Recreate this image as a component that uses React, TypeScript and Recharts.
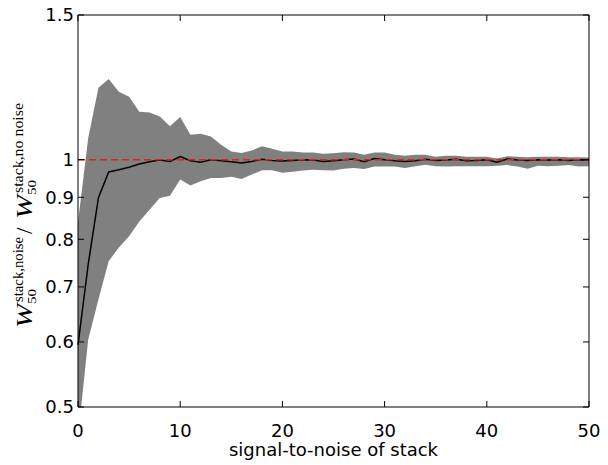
import { ComposedChart, Area, Line, XAxis, YAxis, ReferenceLine } from 'recharts';

// signal-to-noise of stack
const snr = Array.from({ length: 51 }, (_, i) => i);

// median ratio W50(stack, noise) / W50(stack, no noise)
const median = [
  0.595, 0.746, 0.899, 0.966, 0.972, 0.979, 0.988, 0.994, 0.999, 0.995,
  1.009, 0.997, 0.993, 1.0, 0.997, 0.994, 0.991, 0.995, 1.001, 0.998,
  0.996, 0.998, 1.0, 0.999, 0.995, 0.997, 1.0, 1.002, 0.994, 1.003,
  1.0, 0.997, 0.995, 0.997, 1.001, 0.998, 0.999, 1.001, 0.997, 0.998,
  1.0, 0.993, 1.002, 0.999, 0.998, 1.0, 0.999, 1.0, 0.998, 1.0, 0.999,
];

// lower edge of the scatter band
const lower = [
  0.46, 0.604, 0.676, 0.752, 0.782, 0.807, 0.841, 0.869, 0.898, 0.904,
  0.946, 0.93, 0.941, 0.95, 0.95, 0.953, 0.947, 0.959, 0.971, 0.971,
  0.964, 0.967, 0.97, 0.972, 0.971, 0.97, 0.975, 0.977, 0.974, 0.981,
  0.981, 0.981, 0.977, 0.982, 0.986, 0.982, 0.981, 0.982, 0.982, 0.982,
  0.982, 0.983, 0.985, 0.981, 0.975, 0.983, 0.982, 0.983, 0.985, 0.981, 0.982,
];

// upper edge of the scatter band
const upper = [
  0.84, 1.063, 1.223, 1.254, 1.21, 1.193, 1.144, 1.141, 1.129, 1.098,
  1.127, 1.072, 1.075, 1.067, 1.043, 1.023, 1.019, 1.026, 1.038, 1.031,
  1.023, 1.023, 1.02, 1.02, 1.017, 1.018, 1.021, 1.02, 1.014, 1.02,
  1.02, 1.014, 1.011, 1.014, 1.014, 1.008, 1.011, 1.011, 1.008, 1.008,
  1.008, 1.003, 1.01, 1.008, 1.007, 1.008, 1.008, 1.008, 1.007, 1.007, 1.006,
];

const xTicks = [0, 10, 20, 30, 40, 50];
const yTicks = [0.5, 0.6, 0.7, 0.8, 0.9, 1, 1.5];

const data = snr.map((s, i) => ({
  snr: s,
  band: [lower[i], upper[i]],
  median: median[i],
}));

const font = { fill: '#000', fontSize: 18, fontFamily: 'DejaVu Sans' };
const serif = "'Liberation Serif', 'DejaVu Serif', serif";
const TL = 6; // inward tick length

// matplotlib-style inward ticks, drawn together with their labels
const BottomTick = ({ x, y, payload }: any) => (
  <g>
    <line x1={x} x2={x} y1={y - 17} y2={y - 17 - TL} stroke="#000" />
    <text x={x} y={y} dy="0.71em" textAnchor="middle" {...font}>{payload.value}</text>
  </g>
);
const LeftTick = ({ x, y, payload }: any) => (
  <g>
    <line x1={x + 4} x2={x + 4 + TL} y1={y} y2={y} stroke="#000" />
    <text x={x} y={y} dy="0.36em" textAnchor="end" {...font}>{String(payload.value)}</text>
  </g>
);
const TopTick = ({ x, y }: any) => (
  <line x1={x} x2={x} y1={y} y2={y + TL} stroke="#000" />
);
const RightTick = ({ x, y }: any) => (
  <line x1={x - TL} x2={x} y1={y} y2={y} stroke="#000" />
);

// W_50^{stack,noise} / W_50^{stack,no noise}, rotated
const YLabel = () => (
  <g transform="translate(32,328) rotate(-90)" fontFamily={serif} fill="#000">
    <text x={0} y={0} fontSize={23} fontStyle="italic" textLength={24} lengthAdjust="spacingAndGlyphs">W</text>
    <text x={24} y={4} fontSize={13} textLength={15} lengthAdjust="spacingAndGlyphs">50</text>
    <text x={26} y={-9} fontSize={14} textLength={65} lengthAdjust="spacingAndGlyphs">stack,noise</text>
    <text x={94} y={0} fontSize={23}>/</text>
    <text x={109} y={0} fontSize={23} fontStyle="italic" textLength={24} lengthAdjust="spacingAndGlyphs">W</text>
    <text x={133} y={4} fontSize={13} textLength={15} lengthAdjust="spacingAndGlyphs">50</text>
    <text x={135} y={-9} fontSize={14} textLength={90} lengthAdjust="spacingAndGlyphs">stack,no noise</text>
  </g>
);

export default function App() {
  return (
    <div style={{ position: 'absolute', left: 0, top: 0, background: '#fff' }}>
      <ComposedChart
        width={608}
        height={465}
        data={data}
        margin={{ top: 14, right: 18, bottom: 0, left: 0 }}
      >
        <Area
          dataKey="band"
          stroke="none"
          fill="#808080"
          fillOpacity={1}
          isAnimationActive={false}
        />
        <Line
          dataKey="median"
          stroke="#000"
          strokeWidth={1.5}
          dot={false}
          isAnimationActive={false}
        />
        <ReferenceLine y={1} stroke="#dd2222" strokeWidth={1.5} strokeDasharray="7 4" />
        <XAxis
          dataKey="snr"
          type="number"
          domain={[0, 50]}
          ticks={xTicks}
          height={58}
          tickSize={0}
          tickMargin={17}
          tickLine={false}
          tick={BottomTick}
          stroke="#000"
          label={{
            value: 'signal-to-noise of stack',
            position: 'insideBottom',
            offset: 9,
            style: font,
          }}
        />
        <XAxis
          xAxisId="top"
          orientation="top"
          type="number"
          domain={[0, 50]}
          ticks={xTicks}
          height={1}
          tickSize={0}
          tickMargin={0}
          tickLine={false}
          tick={TopTick}
          stroke="#000"
        />
        <YAxis
          scale="log"
          domain={[0.5, 1.5]}
          allowDataOverflow
          ticks={yTicks}
          width={78}
          tickSize={0}
          tickMargin={4}
          tickLine={false}
          tick={LeftTick}
          stroke="#000"
          label={<YLabel />}
        />
        <YAxis
          yAxisId="right"
          orientation="right"
          scale="log"
          domain={[0.5, 1.5]}
          allowDataOverflow
          ticks={yTicks}
          width={1}
          tickSize={0}
          tickMargin={0}
          tickLine={false}
          tick={RightTick}
          stroke="#000"
        />
      </ComposedChart>
    </div>
  );
}
